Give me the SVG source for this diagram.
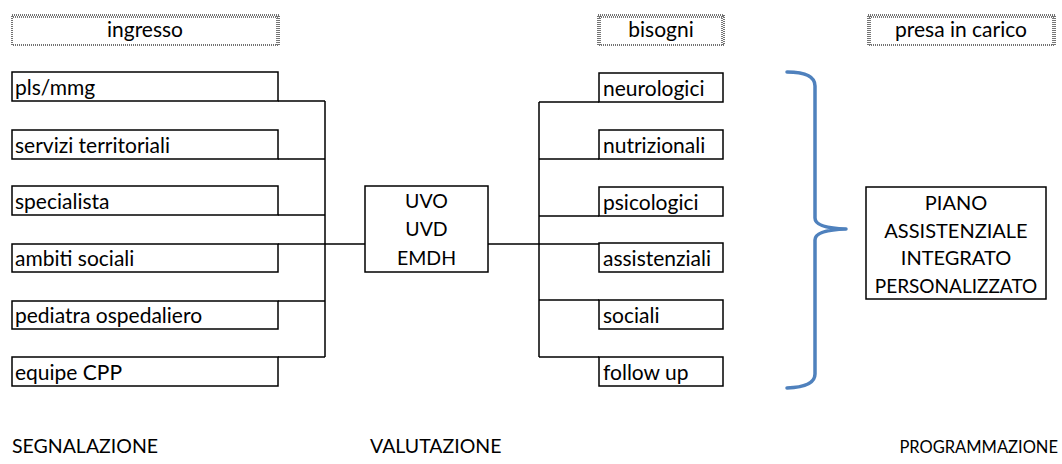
<svg xmlns="http://www.w3.org/2000/svg" width="1062" height="464" viewBox="0 0 1062 464">
<style>
text{font-family:Lato,"Open Sans","Liberation Sans",sans-serif;font-size:21px;fill:#000}
.cap{font-size:19.5px}
.big{font-size:20px}
.mid{text-anchor:middle}
.end{text-anchor:end}
.box{fill:#fff;stroke:#000;stroke-width:1.5}
.hdr{fill:#fff;stroke:#444;stroke-width:1.5;stroke-dasharray:1 1}
.hdr2{fill:none;stroke:#777;stroke-width:1;stroke-dasharray:1 1;stroke-dashoffset:1}
.c{fill:none;stroke:#000;stroke-width:1.5}
.brace{fill:none;stroke:#4f81bd;stroke-width:3.5;stroke-linecap:round;stroke-linejoin:round}
</style>
<rect width="1062" height="464" fill="#fff"/>
<g id="headers">
  <g id="h-ingresso"><rect class="hdr" x="12" y="15" width="267" height="30"/><path class="hdr2" d="M12 16.5H279M277.5 15V45M12 17.5H279M276.5 15V45"/><text class="mid" x="145" y="37">ingresso</text></g>
  <g id="h-bisogni"><rect class="hdr" x="598" y="15" width="126" height="30"/><path class="hdr2" d="M598 16.5H724M722.5 15V45M598 17.5H724M721.5 15V45M599.5 15V45M600.5 15V45"/><text class="mid" x="661" y="37">bisogni</text></g>
  <g id="h-presa"><rect class="hdr" x="868" y="15" width="187" height="30"/><path class="hdr2" d="M868 16.5H1055M1053.5 15V45M868 17.5H1055M1052.5 15V45M869.5 15V45M870.5 15V45"/><text class="mid" x="961" y="37">presa in carico</text></g>
</g>
<g id="connectors">
  <path class="c" d="M278 101H325M278 159H325M278 215H325M278 244H365M278 301H325M278 357H325M325 101V357"/>
  <path class="c" d="M488 244H599M539 102H599M539 159H599M539 216H599M539 300H599M539 357H599M539 102V357"/>
</g>
<g id="n-pls"><rect class="box" x="12" y="72" width="266" height="29"/><text x="15" y="94.5">pls/mmg</text></g>
<g id="n-servizi"><rect class="box" x="12" y="130" width="266" height="29"/><text x="15" y="152.5">servizi territoriali</text></g>
<g id="n-specialista"><rect class="box" x="12" y="186" width="266" height="29"/><text x="15" y="208.5">specialista</text></g>
<g id="n-ambiti"><rect class="box" x="12" y="244" width="266" height="28"/><text x="15" y="266">ambiti sociali</text></g>
<g id="n-pediatra"><rect class="box" x="12" y="301" width="266" height="28"/><text x="15" y="323">pediatra ospedaliero</text></g>
<g id="n-equipe"><rect class="box" x="12" y="357" width="266" height="29"/><text x="15" y="379.5">equipe CPP</text></g>
<g id="n-uvo"><rect class="box" x="365" y="186" width="123" height="86"/><text class="mid cap" x="426.5" y="207.5">UVO</text><text class="mid cap" x="426.5" y="236">UVD</text><text class="mid cap" x="426.5" y="264.5">EMDH</text></g>
<g id="n-neurologici"><rect class="box" x="599" y="73" width="124" height="29"/><text x="603" y="95.5">neurologici</text></g>
<g id="n-nutrizionali"><rect class="box" x="599" y="130" width="124" height="29"/><text x="603" y="152.5">nutrizionali</text></g>
<g id="n-psicologici"><rect class="box" x="599" y="187" width="124" height="29"/><text x="603" y="209.5">psicologici</text></g>
<g id="n-assistenziali"><rect class="box" x="599" y="243" width="124" height="29"/><text x="603" y="265.5">assistenziali</text></g>
<g id="n-sociali"><rect class="box" x="599" y="300" width="124" height="29"/><text x="603" y="322.5">sociali</text></g>
<g id="n-follow"><rect class="box" x="599" y="357" width="124" height="29"/><text x="603" y="379.5">follow up</text></g>
<g id="brace"><path class="brace" d="M787 72Q815 72 815 86V218Q815 228 846 229Q815 230 815 240V374Q815 387 787 388"/></g>
<g id="n-piano"><rect class="box" x="866" y="187" width="180" height="112"/><text class="mid big" x="956" y="210">PIANO</text><text class="mid big" x="956" y="238">ASSISTENZIALE</text><text class="mid big" x="956" y="265">INTEGRATO</text><text class="mid" x="956" y="293" style="font-size:19px">PERSONALIZZATO</text></g>
<g id="labels">
  <text class="cap" x="12" y="453">SEGNALAZIONE</text>
  <text class="cap" x="370" y="453">VALUTAZIONE</text>
  <text class="end" x="1058" y="453" style="font-size:16.5px">PROGRAMMAZIONE</text>
</g>
</svg>
